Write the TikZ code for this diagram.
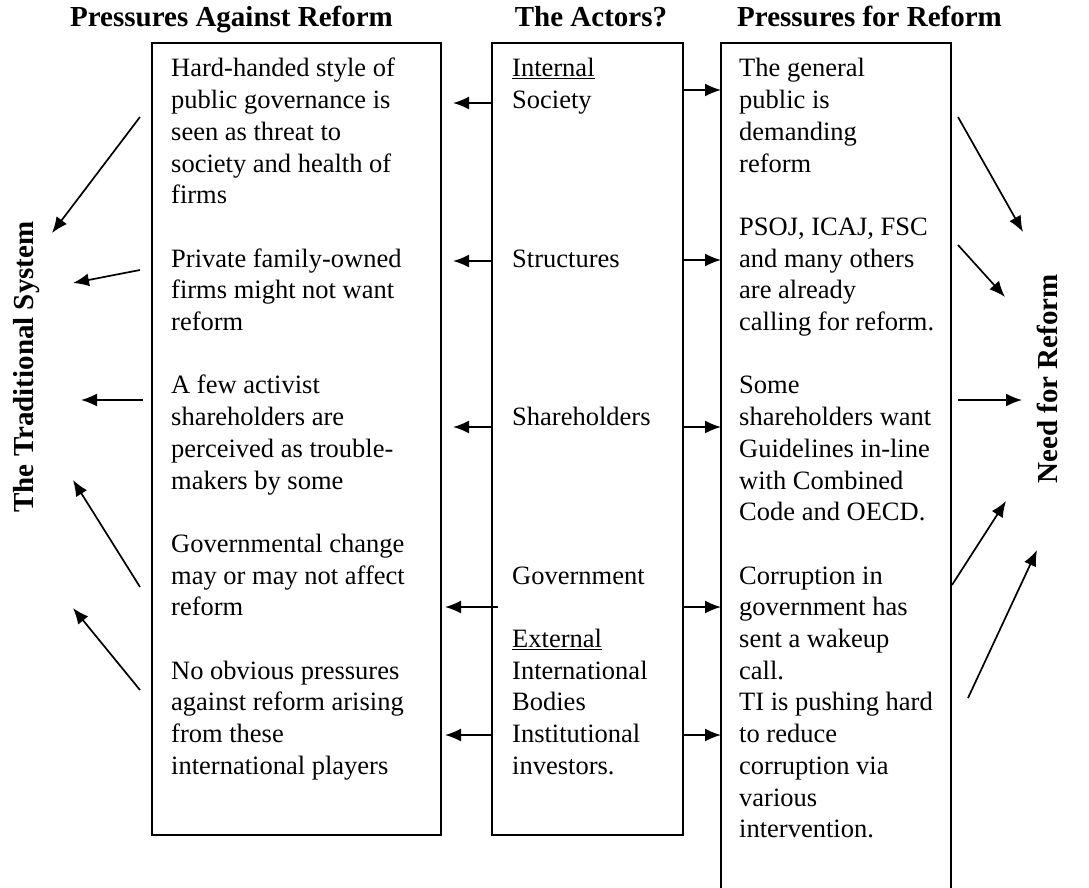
\documentclass[tikz,border=0pt]{standalone}
\usepackage{fontspec}
\setmainfont{Liberation Serif}
\usetikzlibrary{arrows.meta}
\newcommand{\bodyfont}{\fontsize{26.5}{31.7}\selectfont}
\newcommand{\headfont}{\fontsize{29}{35}\selectfont\bfseries}
\begin{document}
\begin{tikzpicture}[x=1pt,y=-1pt,
  box/.style={draw, line width=1.8pt, anchor=north west, inner sep=0, outer sep=0},
  txt/.style={anchor=base west, inner sep=0, font=\bodyfont},
  head/.style={anchor=base, inner sep=0, font=\headfont},
  arr/.style={-{Latex[length=16pt,width=13pt]}, line width=1.7pt}]
\clip (0,0) rectangle (1089,888);
\node[head] (hagainst) at (231.5,27) {Pressures Against Reform};
\node[head] (hactors) at (591,27) {The Actors?};
\node[head] (hfor) at (869.5,27) {Pressures for Reform};
\node[head, rotate=90] (trad) at (33,367) {The Traditional System};
\node[head, rotate=90] (need) at (1057,379) {Need for Reform};
% boxes
\node[box, minimum width=289pt, minimum height=792pt] (against) at (152,43) {};
\node[box, minimum width=191pt, minimum height=792pt] (actors) at (492,43) {};
\node[box, minimum width=230pt, minimum height=860pt] (for) at (721,43) {};
% texts
\node[txt] (againsttxt) at (171,77) {\parbox[t]{300pt}{\raggedright
Hard-handed style of\\public governance is\\seen as threat to\\society and health of\\firms\\[\baselineskip]
Private family-owned\\firms might not want\\reform\\[\baselineskip]
A few activist\\shareholders are\\perceived as trouble-\\makers by some\\[\baselineskip]
Governmental change\\may or may not affect\\reform\\[\baselineskip]
No obvious pressures\\against reform arising\\from these\\international players}};
\node[txt] (actorstxt) at (512,77) {\parbox[t]{200pt}{\raggedright
\underline{Internal}\\Society\\[4\baselineskip]
Structures\\[4\baselineskip]
Shareholders\\[4\baselineskip]
Government\\[\baselineskip]
\underline{External}\\International\\Bodies\\Institutional\\investors.}};
\node[txt] (fortxt) at (739,77) {\parbox[t]{300pt}{\raggedright
The general\\public is\\demanding\\reform\\[\baselineskip]
PSOJ, ICAJ, FSC\\and many others\\are already\\calling for reform.\\[\baselineskip]
Some\\shareholders want\\Guidelines in-line\\with Combined\\Code and OECD.\\[\baselineskip]
Corruption in\\government has\\sent a wakeup\\call.\\TI is pushing hard\\to reduce\\corruption via\\various\\intervention.}};
% actors to pressures
\draw[arr, shorten >=12pt] (actors.west |- 0,103) -- (against.east |- 0,103);
\draw[arr, shorten >=12pt] (actors.west |- 0,261) -- (against.east |- 0,261);
\draw[arr, shorten >=12pt] (actors.west |- 0,427) -- (against.east |- 0,427);
\draw[arr, shorten >=4pt] ([xshift=6pt]actors.west |- 0,607) -- (against.east |- 0,607);
\draw[arr, shorten >=4pt] (actors.west |- 0,735) -- (against.east |- 0,735);
\draw[arr] (actors.east |- 0,90) -- (for.west |- 0,90);
\draw[arr] (actors.east |- 0,260) -- (for.west |- 0,260);
\draw[arr] (actors.east |- 0,427) -- (for.west |- 0,427);
\draw[arr] (actors.east |- 0,607) -- (for.west |- 0,607);
\draw[arr] (actors.east |- 0,735) -- (for.west |- 0,735);
% to the traditional system
\coordinate (t1a) at (140,117); \coordinate (t1b) at (52,233);
\coordinate (t2a) at (140,270); \coordinate (t2b) at (73,283);
\coordinate (t3a) at (143,400); \coordinate (t3b) at (81,400);
\coordinate (t4a) at (140,587); \coordinate (t4b) at (73,480);
\coordinate (t5a) at (140,690); \coordinate (t5b) at (73,608);
\draw[arr] (t1a) -- (t1b);
\draw[arr] (t2a) -- (t2b);
\draw[arr] (t3a) -- (t3b);
\draw[arr] (t4a) -- (t4b);
\draw[arr] (t5a) -- (t5b);
% to the need for reform
\coordinate (n1a) at (958,117); \coordinate (n1b) at (1023,232);
\coordinate (n2a) at (958,245); \coordinate (n2b) at (1005,297);
\coordinate (n3a) at (958,400); \coordinate (n3b) at (1022,400);
\coordinate (n4a) at (952,585); \coordinate (n4b) at (1006,501);
\coordinate (n5a) at (968,698); \coordinate (n5b) at (1037,550);
\draw[arr] (n1a) -- (n1b);
\draw[arr] (n2a) -- (n2b);
\draw[arr] (n3a) -- (n3b);
\draw[arr] (n4a) -- (n4b);
\draw[arr] (n5a) -- (n5b);
\end{tikzpicture}
\end{document}
